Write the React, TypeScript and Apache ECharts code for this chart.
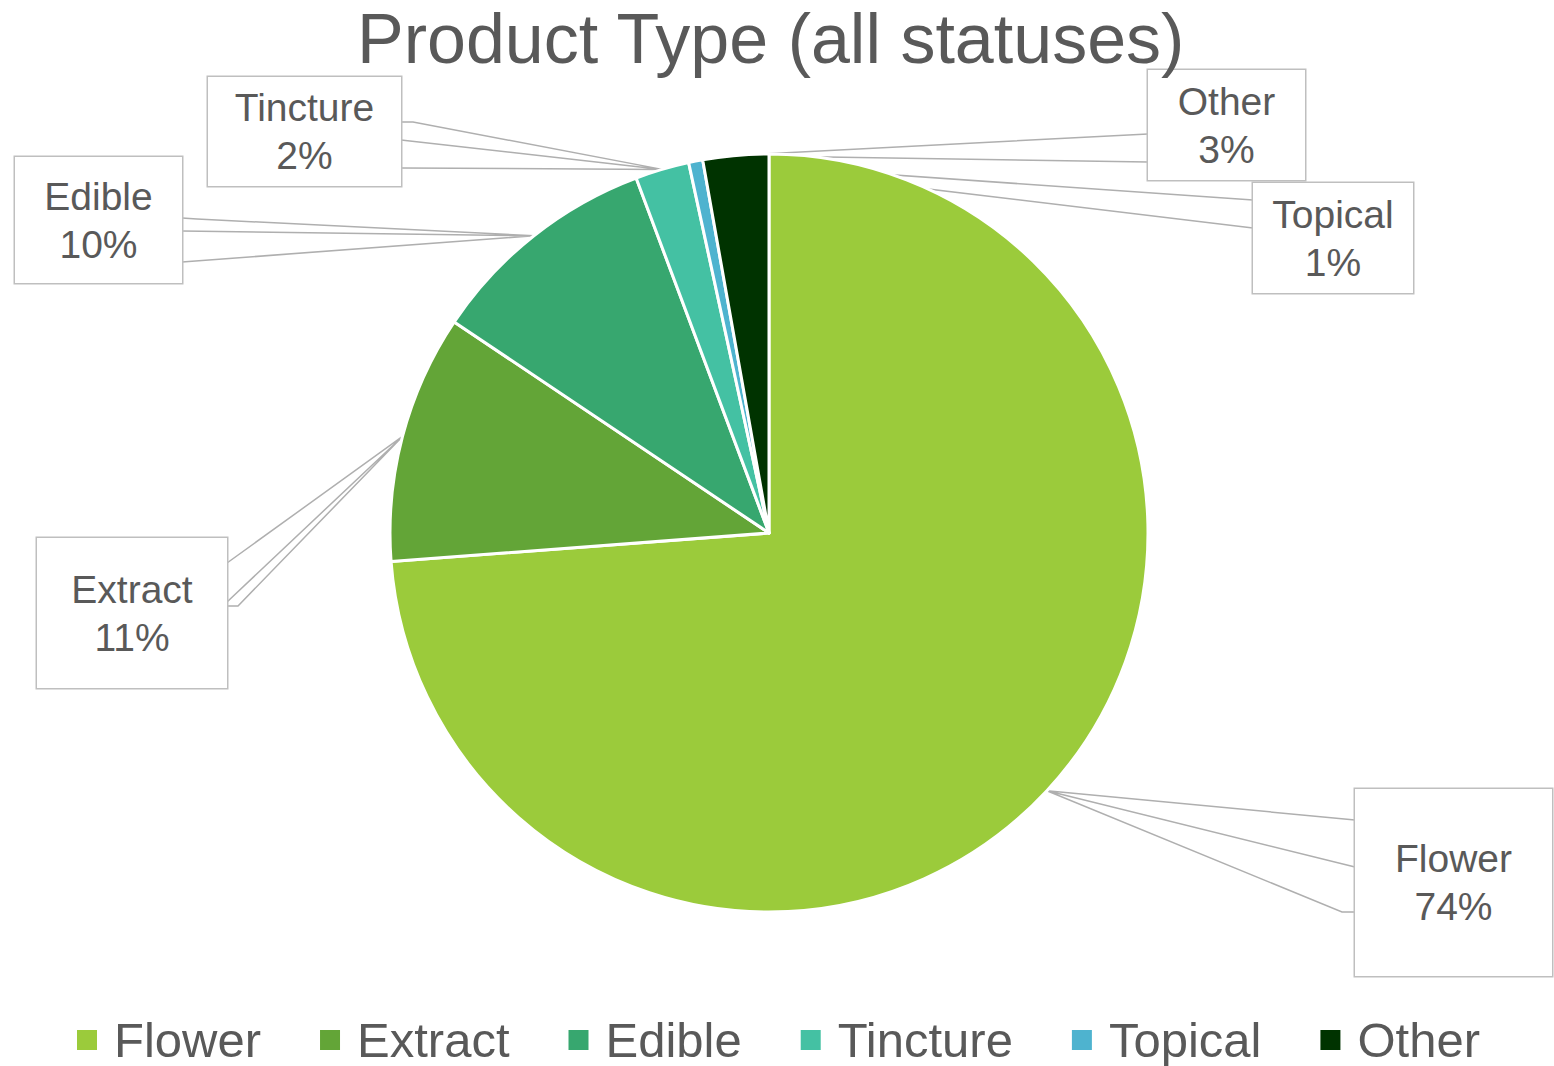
import React, { useEffect, useRef } from 'react';
import * as echarts from 'echarts';

// ---- data ----
const chartTitle = 'Product Type (all statuses)';
const categories = ['Flower', 'Extract', 'Edible', 'Tincture', 'Topical', 'Other'];
const values = [73.8, 10.6, 9.9, 2.3, 0.6, 2.8];
const colors = ['#9BCB3B', '#63A537', '#37A76F', '#44C1A3', '#4EB3CF', '#003300'];

// ---- layout (positions / sizes only) ----
const FONT = "'Liberation Sans', Arial, sans-serif";
const TEXT_COLOR = '#595959';
const PIE_CENTER = [769, 533];
const PIE_RADIUS = 379;
const LINE_H = 48;

type Leg = number[][]; // [boxPoint, kink?]
interface Box { cx: number; cy: number; w: number; pt: number; pb: number; legs: Leg[] }

const boxes: Box[] = [
  { cx: 1453.5, cy: 882.5, w: 197, pt: 47, pb: 44, legs: [[[1355, 820]], [[1355, 867]], [[1355, 912], [1342, 912]]] },
  { cx: 132, cy: 613, w: 190, pt: 10, pb: 44, legs: [[[227, 563]], [[227, 602]], [[227, 606], [238, 606]]] },
  { cx: 98.5, cy: 220, w: 167, pt: 16, pb: 14, legs: [[[182, 218], [197, 219]], [[182, 231]], [[182, 262]]] },
  { cx: 304.5, cy: 131.5, w: 193, pt: 7, pb: 6, legs: [[[401, 122], [413, 122]], [[401, 140]], [[401, 168]]] },
  { cx: 1333, cy: 238, w: 160, pt: 8, pb: 6, legs: [[[1253, 200]], [[1253, 228]]] },
  { cx: 1226.5, cy: 125, w: 157, pt: 8, pb: 6, legs: [[[1148, 134]], [[1148, 162]]] },
];

function tipPoints(): number[][] {
  const total = values.reduce((a, b) => a + b, 0);
  let cum = 0;
  return values.map((v) => {
    const mid = ((cum + v / 2) / total) * Math.PI * 2;
    cum += v;
    return [PIE_CENTER[0] + PIE_RADIUS * Math.sin(mid), PIE_CENTER[1] - PIE_RADIUS * Math.cos(mid)];
  });
}

export default function App() {
  const ref = useRef<HTMLDivElement>(null);
  useEffect(() => {
    if (!ref.current) return;
    const chart = echarts.init(ref.current, null, { renderer: 'svg' });
    const tips = tipPoints();
    const data = categories.map((name, i) => ({
      name,
      value: values[i],
      itemStyle: { color: colors[i] },
      label: { width: boxes[i].w, padding: [boxes[i].pt, 0, boxes[i].pb, 0] },
    }));
    chart.setOption({
      animation: false,
      backgroundColor: '#ffffff',
      title: {
        text: chartTitle,
        left: 357,
        top: 4,
        padding: 0,
        textStyle: { fontFamily: FONT, fontSize: 70, lineHeight: 70, fontWeight: 'normal', color: TEXT_COLOR },
      },
      legend: {
        data: categories,
        left: 75,
        top: 1014,
        padding: 0,
        icon: 'rect',
        itemWidth: 22,
        itemHeight: 22,
        itemGap: 57,
        textStyle: { fontFamily: FONT, fontSize: 49, lineHeight: 52, color: TEXT_COLOR, padding: [0, 0, 0, 11] },
      },
      series: [
        {
          type: 'pie',
          center: PIE_CENTER,
          radius: PIE_RADIUS,
          startAngle: 90,
          clockwise: true,
          avoidLabelOverlap: false,
          itemStyle: { borderColor: '#ffffff', borderWidth: 3 },
          label: {
            show: true,
            position: 'outside',
            formatter: (p: any) => `${p.name}\n${Math.round(p.percent)}%`,
            fontFamily: FONT,
            fontSize: 39,
            lineHeight: LINE_H,
            color: TEXT_COLOR,
            align: 'center',
            backgroundColor: '#ffffff',
            borderColor: '#BFBFBF',
            borderWidth: 1.5,
          },
          labelLine: {
            show: true,
            length: 10,
            length2: 10,
            lineStyle: { color: '#AFAFAF', width: 1.5 },
          },
          labelLayout: (p: any) => {
            const b = boxes[p.dataIndex];
            const tip = tips[p.dataIndex];
            const pts: number[][] = [tip];
            b.legs.forEach((leg) => {
              const out = [...leg].reverse();
              pts.push(...out);
              pts.push(...leg.slice(1));
              pts.push(tip);
            });
            return { x: b.cx, y: b.cy, align: 'center', verticalAlign: 'middle', labelLinePoints: pts };
          },
          data,
        },
      ],
    });
    return () => chart.dispose();
  }, []);
  return <div ref={ref} style={{ position: 'fixed', left: 0, top: 0, width: 1554, height: 1066 }} />;
}
